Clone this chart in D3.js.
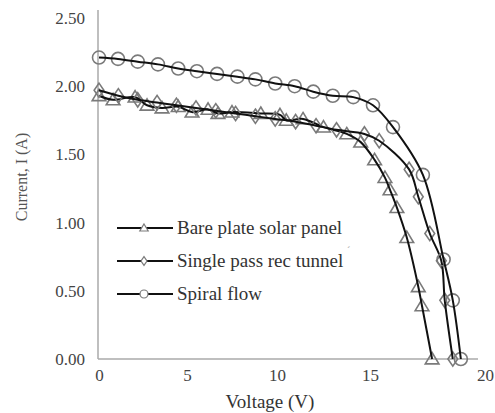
<html>
<script src='https://d3js.org/d3.v7.min.js'></script>
<style>
body {margin:0; background:#fff;}
</style>
<body>
<svg width=495 height=413></svg>
<script>
// values
var xTicks = [0, 5, 10, 15, 20];
var yTicks = [0, 0.5, 1, 1.5, 2, 2.5];

var bareV = [0, 0.8, 2.05, 2.73, 3.58, 4.5, 5.28, 6.17, 6.72, 7.5, 9.1, 10.16, 10.5, 11.4, 12.5, 13.75, 14.5, 15.2, 15.65, 15.87, 16.17, 16.6, 17.1, 17.26, 17.7];
var bareI = [1.93, 1.90, 1.92, 1.86, 1.84, 1.85, 1.81, 1.83, 1.80, 1.81, 1.80, 1.79, 1.75, 1.76, 1.70, 1.65, 1.59, 1.46, 1.33, 1.24, 1.11, 0.89, 0.53, 0.39, 0.0];

var singleV = [0, 1.1, 2.2, 3.3, 4.4, 5.5, 6.6, 7.7, 8.8, 9.9, 11.0, 12.1, 13.2, 14.7, 15.4, 16.7, 17.1, 17.6, 18.1, 18.25, 18.6];
var singleI = [1.97, 1.93, 1.90, 1.88, 1.86, 1.84, 1.82, 1.80, 1.78, 1.76, 1.74, 1.71, 1.68, 1.65, 1.60, 1.39, 1.19, 0.92, 0.72, 0.43, 0.0];

var spiralV = [0, 1.08, 2.2, 3.35, 4.5, 5.55, 6.67, 7.8, 8.8, 9.9, 10.95, 11.95, 13.0, 14.1, 15.13, 16.0, 17.3, 18.2, 18.6, 18.95];
var spiralI = [2.21, 2.20, 2.18, 2.16, 2.13, 2.11, 2.09, 2.07, 2.05, 2.02, 2.00, 1.96, 1.93, 1.92, 1.86, 1.70, 1.35, 0.73, 0.43, 0.0];

var names = ["Bare plate solar panel", "Single pass rec tunnel", "Spiral flow"];
var shapes = ["triangle", "diamond", "circle"];

var serif = "'Liberation Serif', 'DejaVu Serif', serif";
var svg = d3.select("svg");

// the printed axis is not evenly spaced, so follow it piecewise
var x = d3.scaleLinear().domain(xTicks).range([99, 187, 277, 370, 485]);
var y = d3.scaleLinear().domain([0, 2.5]).range([359, 18]);

// axes
svg.append("line").attr("x1", 98).attr("x2", 98).attr("y1", 10).attr("y2", 359)
    .attr("stroke", "#aaa").attr("stroke-width", 1.5);
svg.append("line").attr("x1", 98).attr("x2", 478).attr("y1", 359).attr("y2", 359)
    .attr("stroke", "#aaa").attr("stroke-width", 1.5);

var gy = svg.append("g").attr("transform", "translate(98,0)")
    .call(d3.axisLeft(y).tickValues(yTicks).tickFormat(d3.format(".2f")).tickSize(0).tickPadding(13));
var gx = svg.append("g").attr("transform", "translate(0,359)")
    .call(d3.axisBottom(x).tickValues(xTicks).tickSize(0).tickPadding(10));
[gx, gy].forEach(function(g) {
    g.select(".domain").remove();
    g.selectAll("text").style("font-size", "17px").style("fill", "#444")
        .style("font-family", serif);
});

svg.append("text").attr("transform", "translate(27,177) rotate(-90)")
    .attr("text-anchor", "middle").style("font-size", "16px").style("fill", "#555")
    .style("font-family", serif)
    .text("Current, I  (A)");
svg.append("text").attr("x", 270).attr("y", 408)
    .attr("text-anchor", "middle").style("font-size", "19px").style("fill", "#333")
    .style("font-family", serif)
    .text("Voltage (V)");

var series = [
    {v: bareV, i: bareI},
    {v: singleV, i: singleI},
    {v: spiralV, i: spiralI}
];

var line = d3.line().curve(d3.curveCatmullRom.alpha(0.5));

function marker(g, shape, cx, cy, s) {
    if (shape == "circle") {
        g.append("circle").attr("cx", cx).attr("cy", cy).attr("r", s);
    } else if (shape == "triangle") {
        g.append("path").attr("d", "M" + cx + "," + (cy - s) + "L" + (cx + s * 1.05) + "," + (cy + s * 0.75) +
            "L" + (cx - s * 1.05) + "," + (cy + s * 0.75) + "Z");
    } else {
        g.append("path").attr("d", "M" + cx + "," + (cy - s * 1.1) + "L" + (cx + s * 0.75) + "," + cy +
            "L" + cx + "," + (cy + s * 1.1) + "L" + (cx - s * 0.75) + "," + cy + "Z");
    }
}

series.forEach(function(s, k) {
    var pts = s.v.map(function(v, j) { return [x(v), y(s.i[j])]; });
    var mg = svg.append("g").attr("fill", "none").attr("stroke", "#7a7a7a").attr("stroke-width", 1.6);
    pts.forEach(function(p) {
        marker(mg, shapes[k], p[0], p[1], 6.5);
    });
    svg.append("path").attr("d", line(pts)).attr("fill", "none")
        .attr("stroke", "#111").attr("stroke-width", 2);
});

// legend
var lg = svg.append("g");
names.forEach(function(n, k) {
    var ly = 228 + k * 33;
    lg.append("line").attr("x1", 117).attr("x2", 173).attr("y1", ly).attr("y2", ly)
        .attr("stroke", "#111").attr("stroke-width", 2);
    var mg = lg.append("g").attr("fill", "#fff").attr("stroke", "#7a7a7a").attr("stroke-width", 1.2);
    marker(mg, shapes[k], 144, ly, 4);
    lg.append("text").attr("x", 177).attr("y", ly + 6).style("font-size", "19px").style("fill", "#333")
        .style("font-family", serif)
        .text(n);
});
lg.append("text").attr("x", 347).attr("y", 254).style("font-size", "10px").style("fill", "#999")
    .style("font-family", serif).text("\u00B4");
</script>
</body>
</html>
